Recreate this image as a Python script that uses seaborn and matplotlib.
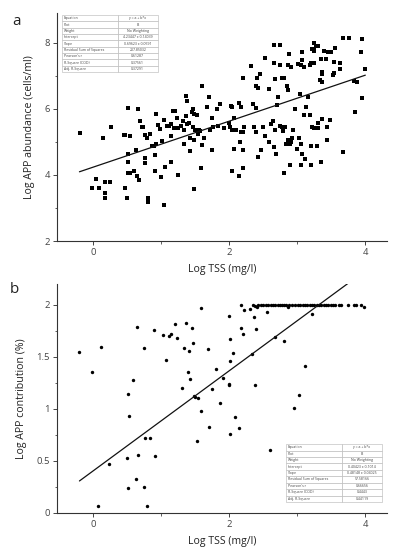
import numpy as np
import pandas as pd
import matplotlib
matplotlib.use("Agg")
import matplotlib.pyplot as plt
from matplotlib.ticker import MultipleLocator
import seaborn as sns

# ---------------- data: panel a ----------------
a_x = [-0.19, 0.14, 0.26, 0.51, 0.66, 0.45, 0.47, 0.55, 0.69, 0.72, 0.74, 0.77, 0.79, 0.84, 0.92, 0.95, 0.99,
       1.04, 1.08, 1.11, 1.15, 1.17, 1.21, 1.24, 1.19, 1.25,
       0.86, 0.89, 0.93, 1.01, 1.14, 0.63, 0.51, 0.76, 0.76, 0.52, 0.91, 1.14, 1.05, 0.91, 0.60, 0.51, 0.55,
       0.65, 0.68, 1.00, 1.25, 0.05, 0.18, 0.25, -0.01, 0.09, 0.17, 0.17, 0.47, 0.50, 0.80, 0.81, 1.04,
       2.66, 2.74, 2.53, 2.32, 2.66, 2.74, 2.45, 2.41, 2.21, 2.68, 2.39, 2.43, 2.58, 1.60, 1.36, 1.38, 1.70,
       2.72, 1.47, 1.45, 1.49, 1.53, 1.36, 1.32, 1.29, 1.67, 1.82, 1.87, 2.02, 2.04, 2.14, 2.17, 2.35, 2.39,
       2.70, 1.75, 2.07, 1.38, 1.41, 1.47, 1.50, 1.55, 1.57, 1.54, 1.63, 1.72, 1.76, 1.83, 1.93, 2.00, 2.01,
       2.04, 2.10, 2.18, 2.21, 2.22, 2.36, 2.39, 2.50, 2.61, 2.64, 2.67, 1.34, 1.42, 1.34, 1.49, 1.60,
       1.42, 1.75, 2.07, 2.20, 2.16, 2.47, 2.43, 2.52, 2.59, 2.66, 2.69, 1.59, 2.04, 2.20, 2.14, 1.48,
       3.67, 3.76, 3.95, 3.24, 3.27, 3.30, 3.22, 3.25, 3.24, 3.40, 3.45, 3.50, 3.55, 3.93, 3.07, 2.88, 3.07,
       3.20, 3.24, 3.35, 3.42, 3.01, 3.06, 3.10, 3.19, 2.86, 2.91, 3.54, 3.63, 3.63, 3.36, 3.37, 3.52, 3.54,
       3.33, 3.36, 2.78, 2.81, 2.85, 2.87, 3.99, 3.83, 3.88, 3.04, 3.16, 3.95, 3.85, 2.97, 3.13, 3.10, 3.19,
       3.37, 3.48, 3.31, 3.43, 3.21, 3.25, 3.30, 2.75, 2.78, 2.82, 2.79, 2.94, 2.93, 3.03, 2.87, 2.91, 2.83,
       2.89, 3.06, 3.00, 3.43, 3.29, 3.20, 3.07, 3.12, 3.67, 2.90, 3.06, 3.20, 3.35, 2.81]
a_y = [5.26, 5.13, 5.46, 6.04, 5.99, 5.21, 5.21, 5.17, 5.62, 5.45, 5.45, 5.21, 5.11, 5.25, 5.85, 5.52, 5.38,
       5.66, 5.48, 5.47, 5.53, 5.93, 5.92, 5.72, 5.42, 5.42,
       4.89, 4.89, 4.94, 5.02, 5.19, 4.74, 4.64, 4.50, 4.37, 4.39, 4.61, 4.39, 4.24, 4.13, 4.13, 4.06, 4.06,
       3.98, 3.86, 3.93, 4.01, 3.87, 3.78, 3.78, 3.60, 3.59, 3.46, 3.29, 3.59, 3.29, 3.29, 3.17, 3.10,
       7.92, 7.92, 7.54, 7.30, 7.40, 7.34, 7.04, 6.93, 6.94, 6.90, 6.68, 6.62, 6.60, 6.69, 6.40, 6.24, 6.36,
       6.36, 6.00, 5.89, 5.84, 5.81, 5.79, 5.62, 5.49, 6.06, 6.00, 6.15, 6.10, 6.07, 6.18, 6.07, 6.15, 6.03,
       6.11, 5.72, 5.73, 5.55, 5.57, 5.45, 5.36, 5.36, 5.33, 5.23, 5.12, 5.36, 5.46, 5.49, 5.43, 5.56, 5.46,
       5.36, 5.36, 5.29, 5.29, 5.46, 5.46, 5.29, 5.46, 5.54, 5.63, 5.36, 5.36, 5.11, 4.95, 5.06, 4.91,
       4.71, 4.76, 4.78, 4.74, 5.01, 4.76, 4.55, 5.18, 5.01, 4.84, 4.64, 4.22, 4.12, 4.20, 3.98, 3.57,
       8.15, 8.15, 8.11, 8.00, 7.90, 7.91, 7.81, 7.77, 7.74, 7.76, 7.73, 7.73, 7.83, 7.72, 7.71, 7.66, 7.48,
       7.40, 7.40, 7.51, 7.51, 7.35, 7.32, 7.28, 7.32, 7.32, 7.28, 7.42, 7.38, 7.21, 7.12, 7.04, 7.01, 7.07,
       6.87, 6.80, 6.94, 6.94, 6.70, 6.58, 7.20, 6.84, 6.81, 6.44, 6.36, 6.32, 5.90, 6.01, 6.05, 5.80, 5.80,
       5.70, 5.65, 5.56, 5.46, 5.45, 5.43, 5.43, 5.49, 5.45, 5.45, 5.32, 5.36, 5.13, 5.12, 5.06, 5.01, 4.93,
       4.94, 4.93, 4.78, 5.06, 4.89, 4.87, 4.64, 4.48, 4.70, 4.30, 4.29, 4.30, 4.39, 4.07]

# ---------------- data: panel b ----------------
b_x = [-0.21, 0.12, -0.02, 0.64, 0.90, 0.75, 0.59, 0.51, 0.53, 1.03, 1.12, 1.15, 1.20, 1.23, 1.36, 1.45,
       1.47, 1.34, 1.41, 1.58, 1.69, 1.07, 1.39, 1.43, 1.31, 1.48, 1.50, 1.54, 1.59, 1.71, 1.53, 1.80, 1.91,
       1.75, 1.86, 2.00, 2.01, 2.01, 2.00, 2.00, 2.01, 0.77, 0.83, 0.66, 0.91, 0.50, 0.24, 0.63, 0.52, 0.75,
       0.07, 0.79,
       2.37, 2.56, 3.22, 2.18, 2.20, 2.40, 2.68, 2.80, 2.06, 2.33, 3.11, 2.38, 3.03, 2.95, 2.09, 2.14, 2.60,
       2.18, 2.22, 2.31, 2.35, 2.38, 2.41, 2.42, 2.46, 2.50, 2.54, 2.57, 2.61, 2.64, 2.68, 2.71, 2.74, 2.78,
       2.80, 2.84, 2.86, 2.88, 2.92, 2.97, 3.01, 3.04, 3.08, 3.12, 3.15, 3.18, 3.22, 3.25, 3.29, 3.32, 3.35,
       3.39, 3.42, 3.45, 3.49, 3.52, 3.56, 3.61, 3.64, 3.75, 3.83, 3.87, 3.93, 3.98]
b_y = [1.55, 1.60, 1.36, 1.79, 1.76, 1.59, 1.28, 1.14, 0.93, 1.71, 1.70, 1.72, 1.82, 1.68, 1.83, 1.78,
       1.63, 1.59, 1.56, 1.97, 1.58, 1.47, 1.36, 1.29, 1.20, 1.125, 1.12, 1.11, 0.98, 0.83, 0.69, 1.38, 1.30,
       1.19, 1.06, 1.89, 1.67, 1.46, 1.24, 1.23, 0.76, 0.72, 0.72, 0.56, 0.55, 0.53, 0.47, 0.33, 0.24, 0.25,
       0.07, 0.07,
       1.88, 1.93, 1.91, 1.78, 1.72, 1.77, 1.69, 1.65, 1.54, 1.53, 1.41, 1.23, 1.13, 1.01, 0.92, 0.82, 0.61,
       2.00, 1.95, 1.96, 2.00, 1.99, 1.98, 2.00, 2.00, 2.00, 2.00, 2.00, 2.00, 2.00, 2.00, 2.00, 2.00, 2.00,
       2.00, 2.00, 1.98, 2.00, 2.00, 2.00, 2.00, 2.00, 2.00, 2.00, 2.00, 2.00, 2.00, 2.00, 2.00, 2.00, 2.00,
       2.00, 2.00, 2.00, 2.00, 2.00, 2.00, 2.00, 2.00, 2.00, 2.00, 2.00, 2.00, 1.98]

# fit parameters (from the inset tables)
a_intercept, a_slope = 4.23447, 0.69623
b_intercept, b_slope = 0.40423, 0.48148
fit_x = [-0.2, 4.0]

tbl_labels = ["Equation", "Plot", "Weight", "Intercept", "Slope", "Residual Sum of Squares",
              "Pearson's r", "R-Square (COD)", "Adj. R-Square"]
a_tbl_vals = ["y = a + b*x", "B", "No Weighting", "4.23447 \u00b1 0.14039", "0.69623 \u00b1 0.0591",
              "207.85032", "0.61287", "0.37561", "0.37291"]
b_tbl_vals = ["y = a + b*x", "B", "No Weighting", "0.40423 \u00b1 0.1014", "0.48148 \u00b1 0.04025",
              "57.58166", "0.66656", "0.4443", "0.44119"]

xlabel = "Log TSS (mg/l)"
a_ylabel = "Log APP abundance (cells/ml)"
b_ylabel = "Log APP contribution (%)"

# ---------------- style ----------------
sns.set_style("ticks")
plt.rcParams["font.family"] = ["Open Sans", "DejaVu Sans"]
plt.rcParams["axes.edgecolor"] = "#333333"
plt.rcParams["xtick.color"] = "#444444"
plt.rcParams["ytick.color"] = "#444444"

fig = plt.figure(figsize=(3.93, 5.5), dpi=100)
ax_a = fig.add_axes([0.145, 0.5618, 0.84, 0.4145])
ax_b = fig.add_axes([0.145, 0.0673, 0.84, 0.416])


def style_axis(ax, ylo, yhi, ymaj, ymin_step):
    ax.set_xlim(-0.53, 4.32)
    ax.set_ylim(ylo, yhi)
    ax.xaxis.set_major_locator(MultipleLocator(2))
    ax.xaxis.set_minor_locator(MultipleLocator(1))
    ax.yaxis.set_major_locator(MultipleLocator(ymaj))
    ax.yaxis.set_minor_locator(MultipleLocator(ymin_step))
    for s in ["top", "right"]:
        ax.spines[s].set_visible(False)
    for s in ["left", "bottom"]:
        ax.spines[s].set_linewidth(0.8)
    ax.tick_params(which="major", length=3, width=0.7, labelsize=6.8, pad=2)
    ax.tick_params(which="minor", length=1.8, width=0.6)
    ax.set_xlabel(xlabel, fontsize=7.6, labelpad=5, color="#222222")


def add_table(ax, vals, bbox):
    rows = [[l, v] for l, v in zip(tbl_labels, vals)]
    t = ax.table(cellText=rows, colWidths=[0.58, 0.42], bbox=bbox, zorder=5)
    t.auto_set_font_size(False)
    t.set_fontsize(2.5)
    for (r, c), cell in t.get_celld().items():
        cell.set_edgecolor("#b5b5b5")
        cell.set_linewidth(0.4)
        cell.set_facecolor("white")
        cell.get_text().set_color("#444444")
        if c == 0:
            cell.get_text().set_ha("left")
            cell._loc = "left"
            cell.PAD = 0.03
        else:
            cell.get_text().set_ha("center")
            cell._loc = "center"


# panel a
df_a = pd.DataFrame({"x": a_x, "y": a_y})
sns.scatterplot(data=df_a, x="x", y="y", ax=ax_a, marker="s", s=6, color="black", linewidth=0)
fa = pd.DataFrame({"x": fit_x, "y": [a_intercept + a_slope * v for v in fit_x]})
sns.lineplot(data=fa, x="x", y="y", ax=ax_a, color="#111111", linewidth=0.9)
style_axis(ax_a, 2, 8.9, 2, 1)
ax_a.set_ylabel(a_ylabel, fontsize=7.6, labelpad=7, color="#222222")
add_table(ax_a, a_tbl_vals, [0.015, 0.741, 0.291, 0.25])

# panel b
df_b = pd.DataFrame({"x": b_x, "y": b_y})
sns.scatterplot(data=df_b, x="x", y="y", ax=ax_b, marker="o", s=6, color="black", linewidth=0)
fb = pd.DataFrame({"x": fit_x, "y": [b_intercept + b_slope * v for v in fit_x]})
sns.lineplot(data=fb, x="x", y="y", ax=ax_b, color="#111111", linewidth=0.9)
style_axis(ax_b, 0, 2.2, 0.5, 0.25)
ax_b.yaxis.set_major_formatter(plt.FuncFormatter(lambda v, p: f"{v:g}"))
ax_b.set_ylabel(b_ylabel, fontsize=7.6, labelpad=7, color="#222222")
add_table(ax_b, b_tbl_vals, [0.694, 0.048, 0.291, 0.253])

fig.text(0.03, 0.975, "a", fontsize=11, va="top", ha="left", color="#222222")
fig.text(0.025, 0.487, "b", fontsize=11, va="top", ha="left", color="#222222")

fig.savefig("out.png", dpi=100)
